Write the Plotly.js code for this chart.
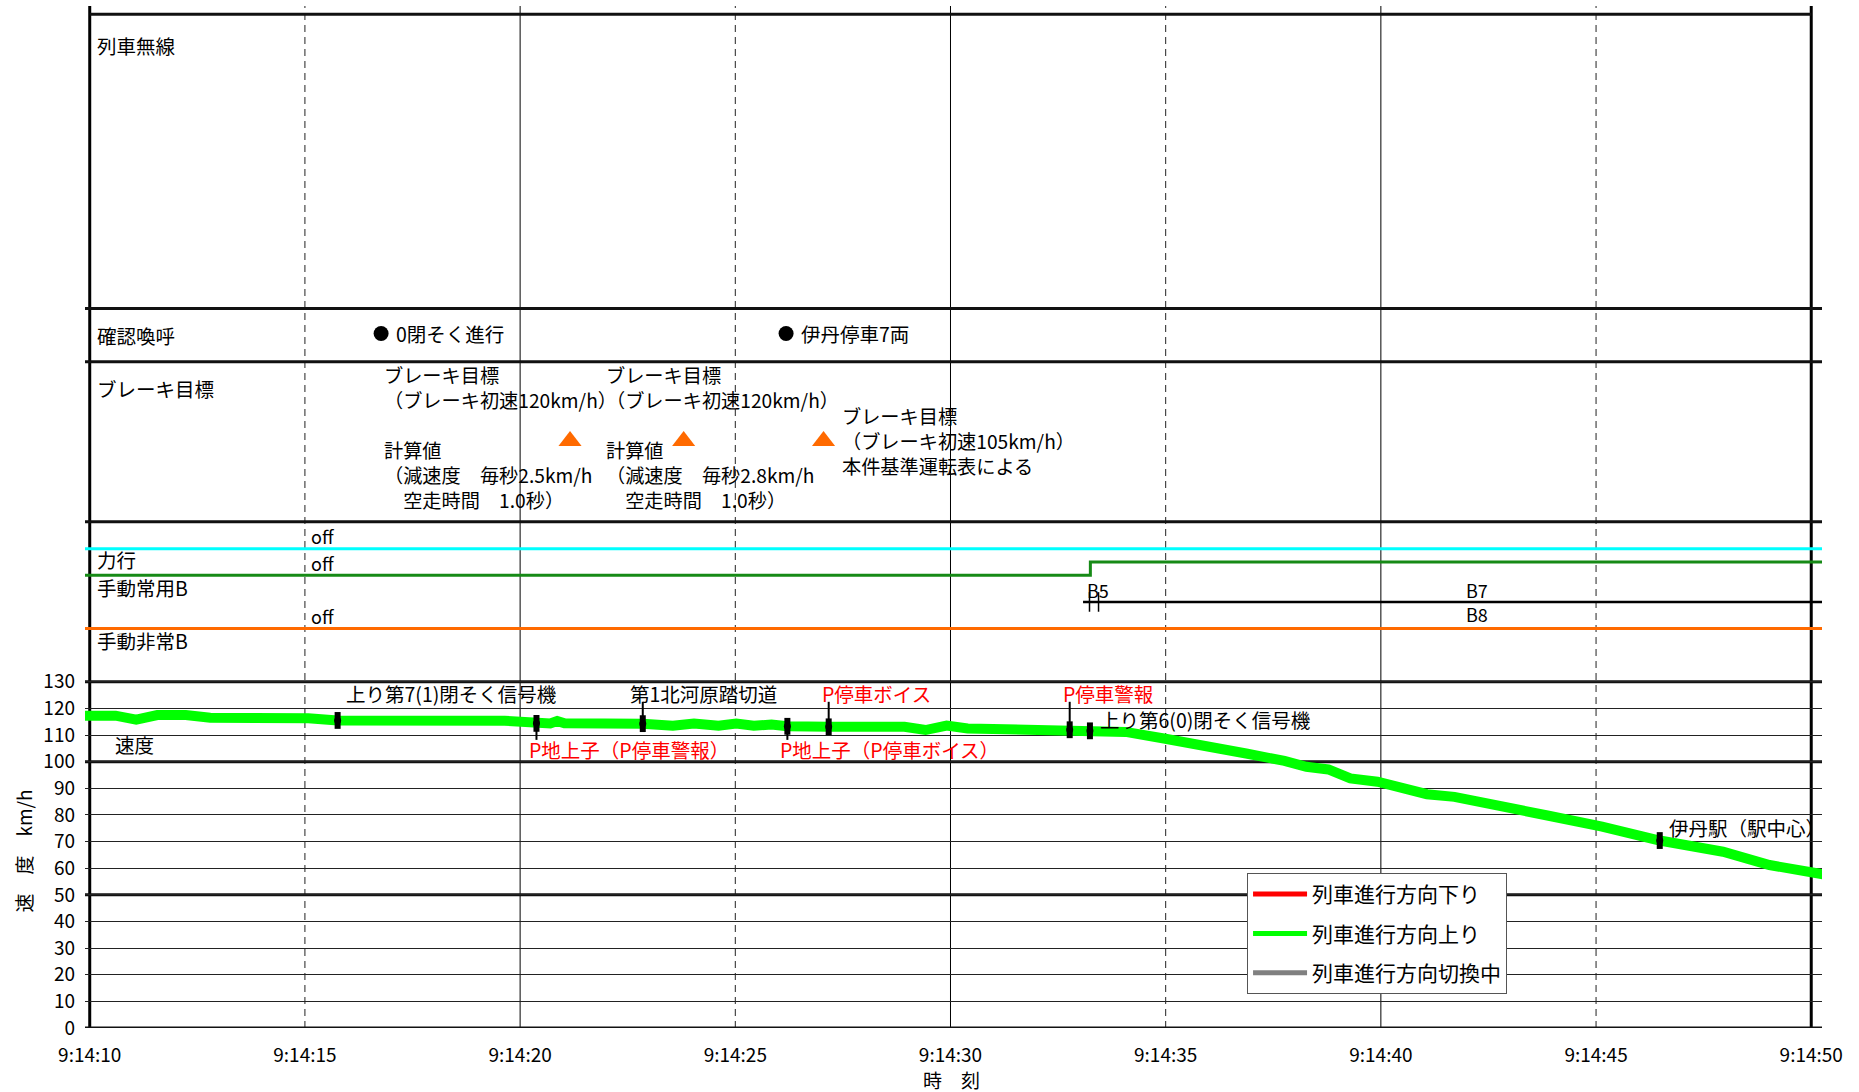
<!DOCTYPE html>
<html><head><meta charset="utf-8">
<script src="https://cdn.plot.ly/plotly-3.0.1.min.js"></script>
<style>html,body{margin:0;padding:0;background:#fff}#chart{width:1859px;height:1092px}</style>
</head><body><div id="chart"></div>
<script>
// ---- axis ticks ----
const tickSeconds = [10, 15, 20, 25, 30, 35, 40, 45, 50];          // seconds after 9:14:00
const tickLabels  = ['9:14:10','9:14:15','9:14:20','9:14:25','9:14:30','9:14:35','9:14:40','9:14:45','9:14:50'];
const speedTicks  = [0,10,20,30,40,50,60,70,80,90,100,110,120,130];
const majorSolidSeconds = [20, 30, 40];
const minorDashSeconds  = [15, 25, 35, 45];

// ---- speed (列車進行方向上り) ----
const speedTime  = [9.78,10.6,11.08,11.57,12.23,12.8,15.08,15.76,19.64,19.97,20.38,20.70,20.86,21.03,22.85,23.23,23.55,24.04,24.61,25.02,25.43,25.84,26.21,27.17,28.93,29.42,29.91,30.40,31.14,32.77,33.24,34.07,34.96,36.23,36.87,37.76,38.27,38.78,39.29,39.92,40.56,41.07,41.71,42.60,43.87,45.14,46.48,47.95,49.03,50.27];
const speedValue = [117.3,117.3,115.8,117.5,117.5,116.5,116.3,115.5,115.4,115.0,114.4,114.4,115.3,114.4,114.3,113.5,113.5,114.3,113.5,114.3,113.5,114.0,113.3,113.1,113.1,111.9,113.6,112.5,112.1,112.0,111.6,111.2,108.7,105.6,103.1,100.3,98.1,97.1,93.7,92.5,89.6,87.8,86.8,84.3,79.8,75.6,70.4,66.2,61.2,57.7];
const downTime = [null], downValue = [null];       // 列車進行方向下り (no data in range)
const switchTime = [null], switchValue = [null];   // 列車進行方向切換中 (no data in range)

// ---- trackside events on the speed curve ----
const eventTime  = [15.76, 20.38, 22.85, 26.21, 27.17, 32.77, 33.24, 46.48];
const eventSpeed = [115.5, 114.4, 114.3, 113.3, 113.1, 112.0, 111.6, 70.4];
const eventLabel = ['上り第7(1)閉そく信号機','P地上子（P停車警報）','第1北河原踏切道','P地上子（P停車ボイス）','P停車ボイス','P停車警報','上り第6(0)閉そく信号機','伊丹駅（駅中心）'];
const eventKind  = ['signal','ats','crossing','ats','ats','ats','signal','station'];

// ---- 確認喚呼 ----
const callTime = [16.77, 26.18];
const callText = ['0閉そく進行', '伊丹停車7両'];

// ---- ブレーキ目標 ----
const brakeTargetTime = [21.16, 23.80, 27.05];
const brakeNoteText = [
  'ブレーキ目標<br>（ブレーキ初速120km/h）<br><br>計算値<br>（減速度　毎秒2.5km/h<br>　空走時間　1.0秒）',
  'ブレーキ目標<br>（ブレーキ初速120km/h）<br><br>計算値<br>（減速度　毎秒2.8km/h<br>　空走時間　1.0秒）',
  'ブレーキ目標<br>（ブレーキ初速105km/h）<br>本件基準運転表による'
];

// ---- control signals (0 = off, 1 = on) ----
const powerTime = [9.89, 50.25],               powerState = [0, 0];        // 力行
const serviceBTime = [9.89, 33.25, 33.25, 50.25], serviceBState = [0, 0, 1, 1]; // 手動常用B
const notchLineTime = [33.08, 50.25];
const notchChangeTime = [33.23, 33.44];
const notchLabelTime = [33.43, 42.23, 42.23];
const notchLabelText = ['B5', 'B7', 'B8'];
const emergencyTime = [9.89, 50.25],           emergencyState = [0, 0];    // 手動非常B
const offLabelTime = 15.1;

// ================= layout / styling =================
const FONT = '"Noto Sans CJK JP", "Noto Sans", sans-serif';
const X_RANGE = [9.89, 50.25];
const Y_TOP = 383.8;
const CH = {power: 180, service: 170, notch: 160, emergency: 150, step: 5};
const panelY = {radio: 369, call: 260.8, brake: 221.3};

const traces = [];
traces.push({x: downTime, y: downValue, name: '列車進行方向下り', mode: 'lines',
  line: {color: '#ff0000', width: 6}, legendgroup: 'a', showlegend: true, hoverinfo: 'skip'});
traces.push({x: speedTime, y: speedValue, name: '列車進行方向上り', mode: 'lines',
  line: {color: '#00ff00', width: 10}, legendgroup: 'b', hoverinfo: 'skip'});
traces.push({x: switchTime, y: switchValue, name: '列車進行方向切換中', mode: 'lines',
  line: {color: '#808080', width: 6}, legendgroup: 'c', showlegend: true, hoverinfo: 'skip'});

// signal lines
traces.push({x: powerTime, y: powerState.map(s => CH.power + s*CH.step), mode: 'lines',
  line: {color: '#00ffff', width: 3}, showlegend: false, hoverinfo: 'skip'});
traces.push({x: serviceBTime, y: serviceBState.map(s => CH.service + s*CH.step), mode: 'lines',
  line: {color: '#168a16', width: 3}, showlegend: false, hoverinfo: 'skip'});
traces.push({x: notchLineTime, y: notchLineTime.map(() => CH.notch), mode: 'lines',
  line: {color: '#000', width: 2.5}, showlegend: false, hoverinfo: 'skip'});
traces.push({x: notchChangeTime, y: notchChangeTime.map(() => CH.notch), mode: 'markers',
  marker: {symbol: 'line-ns', size: 14, line: {color: '#000', width: 1.5}}, showlegend: false, hoverinfo: 'skip'});
traces.push({x: emergencyTime, y: emergencyState.map(s => CH.emergency + s*CH.step), mode: 'lines',
  line: {color: '#ff6a00', width: 3}, showlegend: false, hoverinfo: 'skip'});

// 確認喚呼 dots
traces.push({x: callTime, y: callTime.map(() => panelY.call), mode: 'markers',
  marker: {color: '#000', size: 15, symbol: 'circle'}, showlegend: false, hoverinfo: 'skip'});
// brake target triangles
traces.push({x: brakeTargetTime, y: brakeTargetTime.map(() => 220.4), mode: 'markers',
  marker: {color: '#ff6a00', size: 20, symbol: 'triangle-up'}, showlegend: false, hoverinfo: 'skip'});

// event markers (rounded black ticks on the curve)
traces.push({x: eventTime, y: eventSpeed, mode: 'markers',
  marker: {symbol: 'line-ns', size: 12, line: {color: '#000', width: 6}}, showlegend: false, hoverinfo: 'skip'});
traces.push({x: eventTime, y: eventSpeed, mode: 'markers',
  marker: {symbol: 'circle', size: 7, color: '#000', line: {width: 0}}, showlegend: false, hoverinfo: 'skip'});

// ---- shapes ----
const shapes = [];
const vline = (x, w, dash, color) => ({type: 'line', xref: 'x', yref: 'paper', x0: x, x1: x, y0: 0, y1: 1,
  line: {color: color, width: w, dash: dash}, layer: 'between'});
minorDashSeconds.forEach(s => shapes.push(vline(s, 1, '7px,5px', '#222')));
majorSolidSeconds.forEach(s => shapes.push(vline(s, 1, 'solid', '#000')));
shapes.push(vline(tickSeconds[0], 3, 'solid', '#000'));
shapes.push(vline(tickSeconds[tickSeconds.length-1], 3, 'solid', '#000'));
const hline = (y, w) => ({type: 'line', xref: 'paper', yref: 'y', x0: 0, x1: 1, y0: y, y1: y,
  line: {color: '#111', width: w}, layer: 'between'});
[270.2, 250.2, 190.1, 130, 100, 50, 0].forEach(y => shapes.push(hline(y, 3)));
shapes.push({type: 'line', xref: 'x', yref: 'y', x0: tickSeconds[0], x1: tickSeconds[tickSeconds.length-1],
  y0: 380.7, y1: 380.7, line: {color: '#111', width: 3}, layer: 'between'});

// connectors / labels for events
const connectorEnd = {up: 122.5, down: 108.2};
const eventPlacement = [
  {side: 'up', conn: false, dx: 6},
  {side: 'down', conn: true, dx: -9},
  {side: 'up', conn: true, dx: -15},
  {side: 'down', conn: true, dx: -9},
  {side: 'up', conn: true, dx: -9},
  {side: 'up', conn: true, dx: -9},
  {side: 'right', conn: false, dx: 8},
  {side: 'right', conn: false, dx: 7}
];
const annotations = [];
eventTime.forEach((t, i) => {
  const p = eventPlacement[i];
  const red = eventKind[i] === 'ats';
  let ly;
  if (p.side === 'up') ly = 125.6;
  else if (p.side === 'down') ly = 104.6;
  else ly = eventSpeed[i] + (i === 6 ? 4.2 : 4.8);
  if (p.conn) {
    shapes.push({type: 'line', xref: 'x', yref: 'y', x0: t, x1: t, y0: eventSpeed[i],
      y1: p.side === 'up' ? connectorEnd.up : connectorEnd.down,
      line: {color: '#000', width: 2}, layer: 'above'});
  }
  annotations.push({x: t, y: ly, xref: 'x', yref: 'y', text: eventLabel[i], showarrow: false,
    xanchor: 'left', yanchor: 'middle', xshift: p.dx,
    font: {family: FONT, size: 19.5, color: red ? '#ff0000' : '#000'}});
});

// panel labels
const panelLabel = (text, y, x) => ({x: x || 10.12, y: y, xref: 'x', yref: 'y', text: text, showarrow: false,
  xanchor: 'left', yanchor: 'middle', font: {family: FONT, size: 19.5, color: '#000'}});
annotations.push(panelLabel('列車無線', panelY.radio));
annotations.push(panelLabel('確認喚呼', 260.0));
annotations.push(panelLabel('ブレーキ目標', 240.0));
annotations.push(panelLabel('力行', CH.power - 4.2));
annotations.push(panelLabel('手動常用B', CH.service - 4.6));
annotations.push(panelLabel('手動非常B', CH.emergency - 4.6));
annotations.push(panelLabel('速度', 106.4, 10.55));

// off labels
[CH.power, CH.service, CH.emergency].forEach(base => annotations.push({x: offLabelTime, y: base + 4.8,
  xref: 'x', yref: 'y', text: 'off', showarrow: false, xanchor: 'left', yanchor: 'middle',
  font: {family: FONT, size: 18, color: '#000'}}));

// notch labels
const notchSide = [1, 1, -1];
notchLabelText.forEach((s, i) => annotations.push({x: notchLabelTime[i], y: CH.notch + notchSide[i]*4.6,
  xref: 'x', yref: 'y', text: s, showarrow: false, xanchor: 'center', yanchor: 'middle',
  font: {family: FONT, size: 18, color: '#000'}}));

// 確認喚呼 texts
callText.forEach((s, i) => annotations.push({x: callTime[i], y: panelY.call, xref: 'x', yref: 'y', text: s,
  showarrow: false, xanchor: 'left', yanchor: 'middle', xshift: 13,
  font: {family: FONT, size: 19.5, color: '#000'}}));

// brake notes
const brakeNoteTime = [16.78, 21.96, 27.44];
const brakeNoteY = [221.7, 221.7, 220.4];
brakeNoteText.forEach((s, i) => annotations.push({x: brakeNoteTime[i], y: brakeNoteY[i], xref: 'x', yref: 'y',
  text: s, showarrow: false, xanchor: 'left', yanchor: 'middle', align: 'left',
  font: {family: FONT, size: 19.2, color: '#000'}}));

// axis titles
annotations.push({x: 0.4986, y: -0.05, xref: 'paper', yref: 'paper', text: '時　刻', showarrow: false,
  xanchor: 'center', yanchor: 'middle', font: {family: FONT, size: 19, color: '#000'}});
annotations.push({x: -0.0355, y: 0.173, xref: 'paper', yref: 'paper', text: '速　度　km/h', showarrow: false,
  textangle: -90, xanchor: 'center', yanchor: 'middle', font: {family: FONT, size: 19, color: '#000'}});

const layout = {
  width: 1859, height: 1092,
  margin: {l: 85, r: 37, t: 6, b: 64, pad: 0},
  paper_bgcolor: '#fff', plot_bgcolor: '#fff',
  font: {family: FONT, size: 19, color: '#000'},
  showlegend: true,
  legend: {x: 0.669, y: 0.1517, xanchor: 'left', yanchor: 'top', bgcolor: '#fff',
    bordercolor: '#555', borderwidth: 1, font: {family: FONT, size: 21, color: '#000'},
    itemwidth: 54, itemsizing: 'constant', tracegroupgap: 9, traceorder: 'grouped'},
  xaxis: {range: X_RANGE, tickvals: tickSeconds, ticktext: tickLabels, showgrid: false, zeroline: false,
    showline: false, ticks: '', ticklabelstandoff: 14, tickfont: {family: FONT, size: 19, color: '#000'}, fixedrange: true},
  yaxis: {range: [0, Y_TOP], tickvals: speedTicks, ticktext: speedTicks.map(String), showgrid: true,
    gridcolor: '#222', gridwidth: 1, zeroline: false, showline: false, ticks: '', ticklabelstandoff: 9,
    tickfont: {family: FONT, size: 19, color: '#000'}, fixedrange: true},
  shapes: shapes,
  annotations: annotations
};

Plotly.newPlot('chart', traces, layout, {displayModeBar: false, staticPlot: true});
</script></body></html>
